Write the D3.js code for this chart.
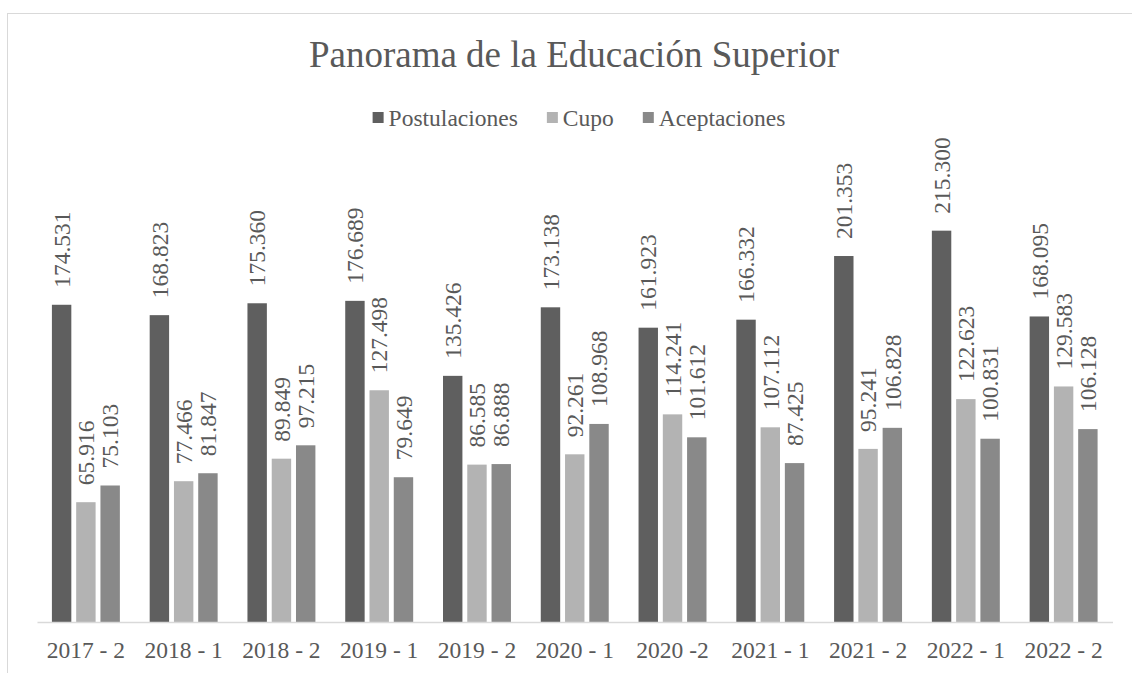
<!DOCTYPE html>
<html>
<head>
<meta charset="utf-8">
<script src="https://cdn.jsdelivr.net/npm/d3@7"></script>
<style>
  body { margin: 0; background: #fff; }
  text { font-family: "Liberation Serif", "DejaVu Serif", serif; fill: #595959; }
</style>
</head>
<body>
<script>
// data
const periods = ['2017 - 2', '2018 - 1', '2018 - 2', '2019 - 1', '2019 - 2', '2020 - 1', '2020 -2', '2021 - 1', '2021 - 2', '2022 - 1', '2022 - 2'];
const seriesNames = ['Postulaciones', 'Cupo', 'Aceptaciones'];
const postulaciones = [174531, 168823, 175360, 176689, 135426, 173138, 161923, 166332, 201353, 215300, 168095];
const cupo = [65916, 77466, 89849, 127498, 86585, 92261, 114241, 107112, 95241, 122623, 129583];
const aceptaciones = [75103, 81847, 97215, 79649, 86888, 108968, 101612, 87425, 106828, 100831, 106128];

const WIDTH = 1132;
const HEIGHT = 673;
const FONT = '"Liberation Serif", "DejaVu Serif", serif';
const colors = d3.scaleOrdinal(seriesNames, ['#5f5f5f', '#b3b3b3', '#898989']);

// spanish number format, dot as thousands separator
const fmt = d3.formatLocale({ decimal: ',', thousands: '.', grouping: [3], currency: ['$', ''] }).format(',d');

const data = periods.map((p, i) => ({
  period: p,
  values: [postulaciones[i], cupo[i], aceptaciones[i]].map((v, j) => ({ key: seriesNames[j], value: v }))
}));

const svg = d3.select('body').append('svg')
  .attr('width', WIDTH)
  .attr('height', HEIGHT);

// chart area border (runs off the right and bottom edge)
svg.append('rect')
  .attr('x', 7.5).attr('y', 13.5)
  .attr('width', WIDTH + 20).attr('height', HEIGHT + 20)
  .attr('fill', 'none')
  .attr('stroke', '#d9d9d9');

// scales
const x0 = d3.scaleBand()
  .domain(periods)
  .range([37, 1112.5])
  .paddingInner(0.305)
  .paddingOuter(0.1525);

const x1 = d3.scaleBand()
  .domain(seriesNames)
  .range([0, x0.bandwidth()])
  .paddingInner(0.2);

const y = d3.scaleLinear()
  .domain([0, 250000])
  .range([622, 167.6]);

// title
svg.append('text')
  .attr('x', 574)
  .attr('y', 67)
  .attr('text-anchor', 'middle')
  .style('font-size', '37px')
  .text('Panorama de la Educación Superior');

// legend
const legend = svg.append('g').attr('class', 'legend');
const items = legend.selectAll('g')
  .data(seriesNames)
  .join('g');

items.append('rect')
  .attr('width', 11).attr('height', 11)
  .attr('y', 112)
  .attr('fill', d => colors(d));

items.append('text')
  .attr('x', 16)
  .attr('y', 126)
  .style('font-size', '23.5px')
  .text(d => d);

let offset = 0;
items.each(function () {
  const g = d3.select(this);
  g.attr('transform', `translate(${offset},0)`);
  offset += 16 + g.select('text').node().getComputedTextLength() + 29;
});
const legendWidth = offset - 29;
legend.attr('transform', `translate(${579 - legendWidth / 2},0)`);

// bars
const groups = svg.append('g')
  .selectAll('g')
  .data(data)
  .join('g')
  .attr('transform', d => `translate(${x0(d.period)},0)`);

groups.selectAll('rect')
  .data(d => d.values)
  .join('rect')
  .attr('x', d => x1(d.key))
  .attr('width', x1.bandwidth())
  .attr('y', d => y(d.value))
  .attr('height', d => y(0) - y(d.value))
  .attr('fill', d => colors(d.key));

// value labels, rotated
groups.selectAll('text')
  .data(d => d.values)
  .join('text')
  .attr('transform', d => `translate(${x1(d.key) + x1.bandwidth() / 2},${y(d.value) - 17}) rotate(-90)`)
  .attr('dy', '0.35em')
  .style('font-size', '23.5px')
  .text(d => fmt(d.value));

// x axis
const xAxis = svg.append('g')
  .attr('transform', `translate(0,${y(0)})`)
  .call(d3.axisBottom(x0).tickSize(0).tickPadding(0));

xAxis.select('.domain')
  .attr('stroke', '#d9d9d9')
  .attr('stroke-width', 1.5);

xAxis.selectAll('.tick text')
  .attr('y', 36)
  .attr('dy', null)
  .style('font-size', '23.5px')
  .style('font-family', FONT)
  .attr('fill', '#595959');
</script>
</body>
</html>
